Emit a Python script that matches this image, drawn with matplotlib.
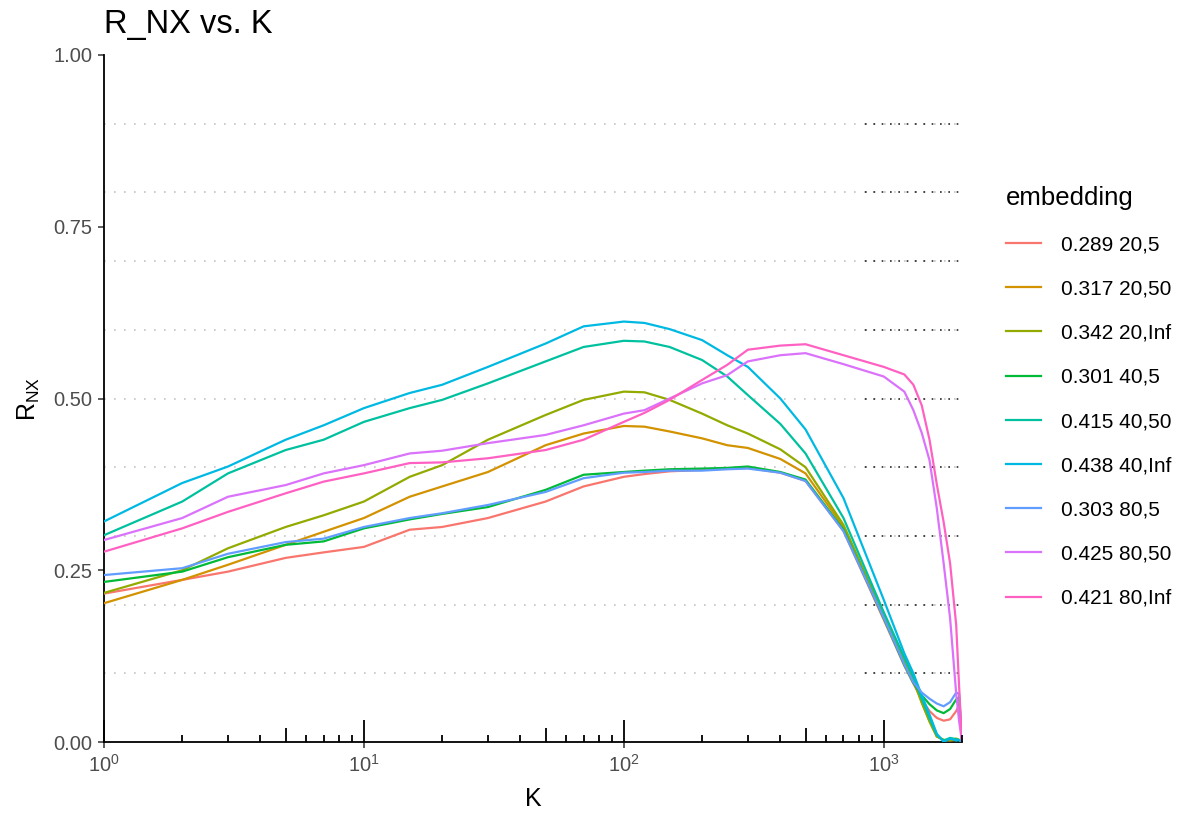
"""R_NX vs. K curves for nine embeddings (ggplot-like look)."""
import matplotlib
matplotlib.use("Agg")
import matplotlib.pyplot as plt
import numpy as np

plt.rcParams["font.family"] = ["Liberation Sans", "DejaVu Sans"]
plt.rcParams["mathtext.fontset"] = "custom"
plt.rcParams["mathtext.rm"] = "Liberation Sans"
plt.rcParams["mathtext.it"] = "Liberation Sans:italic"
plt.rcParams["mathtext.bf"] = "Liberation Sans:bold"
plt.rcParams["mathtext.default"] = "regular"

# ── Data ─────────────────────────────────────────────────────────────────────
K = [1, 2, 3, 5, 7, 10, 15, 20, 30, 50, 70, 100, 120, 150, 200, 250, 300,
     400, 500, 700, 1000, 1200, 1300, 1400, 1500, 1600, 1700, 1800, 1900, 1950, 2000]

labels = ["0.289 20,5", "0.317 20,50", "0.342 20,Inf",
          "0.301 40,5", "0.415 40,50", "0.438 40,Inf",
          "0.303 80,5", "0.425 80,50", "0.421 80,Inf"]

r_20_5 = [0.216, 0.236, 0.248, 0.268, 0.276, 0.284, 0.309, 0.313, 0.326, 0.350, 0.372,
          0.386, 0.390, 0.394, 0.396, 0.398, 0.399, 0.392, 0.380, 0.307, 0.178, 0.111,
          0.085, 0.062, 0.045, 0.035, 0.031, 0.033, 0.045, 0.055, 0.0]
r_20_50 = [0.202, 0.236, 0.258, 0.287, 0.306, 0.326, 0.357, 0.372, 0.393, 0.432, 0.449,
           0.460, 0.459, 0.452, 0.442, 0.432, 0.428, 0.412, 0.391, 0.313, 0.180, 0.117,
           0.090, 0.057, 0.030, 0.008, 0.003, 0.002, 0.003, 0.003, 0.0]
r_20_inf = [0.217, 0.250, 0.282, 0.313, 0.330, 0.350, 0.386, 0.403, 0.440, 0.476, 0.498,
            0.510, 0.509, 0.498, 0.478, 0.461, 0.449, 0.426, 0.400, 0.316, 0.185, 0.118,
            0.090, 0.058, 0.030, 0.008, 0.003, 0.003, 0.005, 0.003, 0.0]
r_40_5 = [0.233, 0.248, 0.269, 0.287, 0.292, 0.311, 0.324, 0.332, 0.342, 0.367, 0.389,
          0.393, 0.395, 0.397, 0.398, 0.399, 0.401, 0.393, 0.382, 0.309, 0.180, 0.112,
          0.086, 0.068, 0.055, 0.046, 0.042, 0.048, 0.062, 0.065, 0.0]
r_40_50 = [0.301, 0.350, 0.391, 0.425, 0.440, 0.466, 0.486, 0.498, 0.522, 0.554, 0.575,
           0.584, 0.583, 0.575, 0.556, 0.532, 0.505, 0.463, 0.420, 0.326, 0.189, 0.123,
           0.095, 0.063, 0.035, 0.010, 0.002, 0.006, 0.004, 0.003, 0.0]
r_40_inf = [0.321, 0.377, 0.401, 0.440, 0.461, 0.486, 0.508, 0.520, 0.546, 0.580, 0.605,
            0.612, 0.610, 0.601, 0.585, 0.563, 0.546, 0.500, 0.455, 0.355, 0.207, 0.129,
            0.100, 0.068, 0.040, 0.012, 0.000, 0.005, 0.002, 0.003, 0.0]
r_80_5 = [0.243, 0.253, 0.274, 0.291, 0.296, 0.313, 0.326, 0.333, 0.345, 0.364, 0.384,
          0.392, 0.393, 0.395, 0.395, 0.397, 0.398, 0.392, 0.380, 0.307, 0.181, 0.113,
          0.087, 0.072, 0.063, 0.056, 0.052, 0.058, 0.072, 0.070, 0.0]
r_80_50 = [0.294, 0.326, 0.357, 0.374, 0.391, 0.403, 0.420, 0.424, 0.435, 0.447, 0.461,
           0.478, 0.483, 0.500, 0.522, 0.534, 0.554, 0.563, 0.566, 0.550, 0.532, 0.510,
           0.483, 0.450, 0.410, 0.340, 0.260, 0.180, 0.070, 0.030, 0.0]
r_80_inf = [0.277, 0.311, 0.335, 0.362, 0.379, 0.391, 0.406, 0.407, 0.413, 0.425, 0.440,
            0.466, 0.479, 0.498, 0.527, 0.549, 0.571, 0.577, 0.579, 0.563, 0.546, 0.535,
            0.520, 0.490, 0.440, 0.375, 0.320, 0.260, 0.170, 0.080, 0.0]

series = [r_20_5, r_20_50, r_20_inf, r_40_5, r_40_50, r_40_inf, r_80_5, r_80_50, r_80_inf]

# ggplot2 default hue palette for 9 groups
COLORS = ["#F8766D", "#D39200", "#93AA00", "#00BA38", "#00C19F",
          "#00B9E3", "#619CFF", "#DB72FB", "#FF61C3"]

GRID_LEVELS = [0.1, 0.2, 0.3, 0.4, 0.5, 0.6, 0.7, 0.8, 0.9]
Y_TICKS = [0.0, 0.25, 0.5, 0.75, 1.0]
X_MAX = 2000

# ── Figure ───────────────────────────────────────────────────────────────────
fig = plt.figure(figsize=(11.9, 8.17), dpi=100)
ax = fig.add_axes([104 / 1190, 1 - 742 / 817, (962 - 104) / 1190, (742 - 55) / 817])

# dotted reference lines: light across the range, darker where they pile up on the right
ax.hlines(GRID_LEVELS, 1, X_MAX, colors="#c4c4c4", linewidth=1.2,
          linestyles=(0, (1, 5)), zorder=1)
ax.hlines(GRID_LEVELS, 850, X_MAX, colors="#2a2a2a", linewidth=1.2,
          linestyles=(0, (1, 4)), zorder=1)

for vals, lab, col in zip(series, labels, COLORS):
    ax.plot(K, vals, color=col, linewidth=1.6, label=lab, zorder=3,
            solid_joinstyle="round")

ax.set_xscale("log")
ax.set_xlim(1, X_MAX)
ax.set_ylim(0, 1)
ax.set_yticks(Y_TICKS)
ax.set_yticklabels([f"{v:.2f}" for v in Y_TICKS])
ax.set_xticks([1, 10, 100, 1000])
ax.xaxis.set_minor_locator(matplotlib.ticker.NullLocator())

# log ticks drawn inside the panel (annotation_logticks style)
trans = ax.get_xaxis_transform()
for dec in [1, 10, 100, 1000]:
    for m in range(1, 10):
        pos = dec * m
        if pos > X_MAX:
            continue
        h = 0.032 if m == 1 else (0.020 if m == 5 else 0.0105)
        ax.plot([pos, pos], [0, h], transform=trans, color="black",
                linewidth=1.3, solid_capstyle="butt", clip_on=False, zorder=4)

for s in ["top", "right"]:
    ax.spines[s].set_visible(False)
for s in ["left", "bottom"]:
    ax.spines[s].set_linewidth(1.3)
    ax.spines[s].set_color("black")

ax.tick_params(axis="both", which="major", length=4.5, width=1.1, color="#333333",
               labelsize=14.5, labelcolor="#4d4d4d", pad=4)

ax.set_xlabel("K", fontsize=18, labelpad=8)
ax.set_ylabel(r"R$_{\mathregular{NX}}$", fontsize=18, labelpad=8)
ax.set_title("R_NX vs. K", loc="left", fontsize=23.5, pad=16)

leg = fig.legend(loc="upper left", bbox_to_anchor=(1006 / 1190, 1 - 186 / 817),
                 frameon=False, fontsize=15, title="embedding", title_fontsize=18.5,
                 handlelength=1.7, handletextpad=0.95, labelspacing=1.21,
                 borderpad=0, borderaxespad=0, alignment="left")
for ln in leg.get_lines():
    ln.set_linewidth(1.6)

fig.savefig("out.png", dpi=100)
